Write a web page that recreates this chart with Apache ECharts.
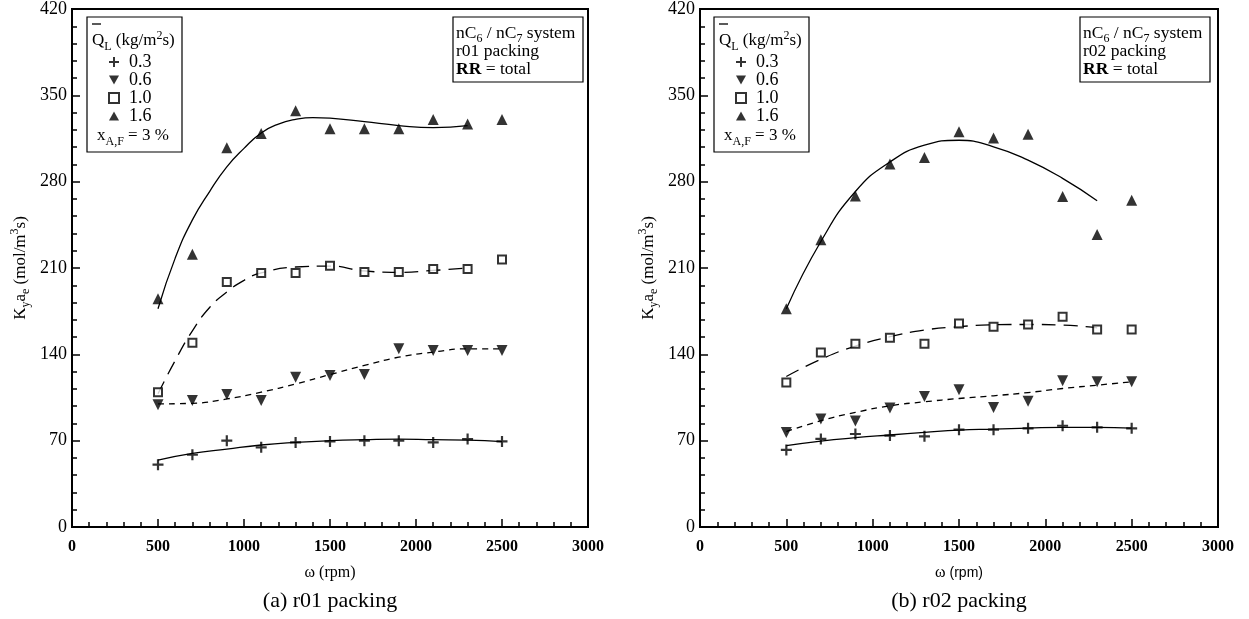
<!DOCTYPE html>
<html>
<head>
<meta charset="utf-8">
<script src="https://cdn.jsdelivr.net/npm/echarts@6/dist/echarts.min.js"></script>
<style>html,body{margin:0;padding:0;background:#fff}#c{width:1249px;height:619px}</style>
</head>
<body>
<div id="c"></div>
<script>
// ---- data ----
const rpm = [500, 700, 900, 1100, 1300, 1500, 1700, 1900, 2100, 2300, 2500];
const xTicks = [0, 500, 1000, 1500, 2000, 2500, 3000];
const yTicks = [0, 70, 140, 210, 280, 350, 420];
const legendNames = ['0.3', '0.6', '1.0', '1.6'];

// (a) r01 packing – measured points
const a03 = [50.5, 58.6, 70, 64.6, 68.6, 69.4, 70, 70, 68.6, 71.3, 69.4];
const a06 = [99.2, 102.5, 107.4, 102.5, 121.4, 122.8, 123.6, 144.5, 143.1, 143.1, 143.1];
const a10 = [109.3, 149.3, 198.6, 206, 206, 211.9, 206.8, 206.8, 209.2, 209.2, 216.8];
const a16 = [185.1, 221.1, 307.5, 319.1, 337.5, 322.9, 322.9, 322.9, 330.5, 326.7, 330.5];
// (a) fitted curves
const fitA03x = [500, 700, 900, 1100, 1300, 1500, 1700, 1900, 2100, 2300, 2500];
const fitA03y = [54.3, 59.7, 63.2, 66.5, 68.6, 70, 70.8, 71.3, 70.8, 70.5, 69.2];
const fitA06x = [500, 700, 900, 1100, 1300, 1500, 1700, 1900, 2100, 2300, 2500];
const fitA06y = [99.8, 100.3, 103.8, 109.3, 116, 123.6, 131, 137.7, 141.8, 144.5, 144.5];
const fitA10x = [500, 600, 700, 800, 900, 1000, 1100, 1300, 1500, 1700, 1900, 2100, 2300];
const fitA10y = [108, 135, 159, 178, 190.5, 200, 206, 210.8, 211.6, 207.6, 206.5, 208, 210];
const fitA16x = [500, 600, 700, 800, 900, 1000, 1100, 1200, 1300, 1400, 1500, 1700, 1900, 2100, 2300];
const fitA16y = [177, 218, 249, 272, 292, 307, 319.5, 326.7, 330.5, 332, 331.5, 328.6, 325.5, 323.8, 325.5];

// (b) r02 packing – measured points
const b03 = [62.5, 71.4, 75.4, 74.1, 73.5, 78.9, 78.9, 80, 82.1, 80.8, 80];
const b06 = [76.7, 87.5, 85.9, 96.4, 105.8, 111.2, 96.9, 102, 118.5, 117.7, 117.7];
const b10 = [117.1, 141.4, 148.6, 153.5, 148.6, 165, 162.4, 164.2, 170.4, 160.2, 160.2];
const b16 = [176.9, 232.9, 268.4, 294.3, 299.6, 320.4, 315.5, 318.5, 267.9, 237.2, 264.9];
// (b) fitted curves
const fitB03x = [500, 700, 900, 1100, 1300, 1500, 1700, 1900, 2100, 2300, 2500];
const fitB03y = [66, 69.7, 72.4, 74.6, 76.7, 78.6, 79.4, 80.2, 80.8, 80.8, 80.2];
const fitB06x = [500, 700, 900, 1100, 1300, 1500, 1700, 1900, 2100, 2300, 2500];
const fitB06y = [77.3, 86.2, 92.9, 98.3, 101.5, 104.2, 106.4, 109, 112.3, 115, 117.7];
const fitB10x = [500, 700, 900, 1100, 1300, 1500, 1700, 1900, 2100, 2300];
const fitB10y = [122, 136, 146.7, 154.3, 159.7, 162.4, 164, 164.2, 163.7, 161.5];
const fitB16x = [500, 700, 900, 1100, 1300, 1500, 1700, 1900, 2100, 2300];
const fitB16y = [177, 231.5, 272, 296, 309.6, 313.6, 308.3, 297.5, 282.7, 264.6];

// ---- build ----
const SERIF = '"Liberation Serif", "DejaVu Serif", serif';
const SANS = '"Liberation Sans", Arial, sans-serif';
const zip = (xs, ys) => xs.map((x, i) => [x, ys[i]]);

function mkRich(fs) {
  const sub = Math.round(fs * 0.68);
  return {
    m: {fontFamily: SERIF, fontSize: fs, lineHeight: fs + 6, color: '#000'},
    s: {fontFamily: SERIF, fontSize: sub, lineHeight: sub + 1, verticalAlign: 'bottom', color: '#000'},
    p: {fontFamily: SERIF, fontSize: sub, lineHeight: sub + 1, verticalAlign: 'top', color: '#000'},
    b: {fontFamily: SERIF, fontSize: fs, lineHeight: fs + 6, fontWeight: 'bold', color: '#000'},
    r: {fontFamily: SANS, fontSize: fs - 2, lineHeight: fs + 6, color: '#000'}
  };
}
const richLegend = mkRich(17);
const richInfo = mkRich(17.5);
const richAxis = mkRich(17);

const plusPath = 'path://M4,0H6V4H10V6H6V10H4V6H0V4H4Z';
const downTri = 'path://M0,0H10L5,9Z';
const upTri = 'path://M5,0L10,9H0Z';

const grids = [
  {left: 72, top: 9, width: 516, height: 518, show: true, borderColor: '#000', borderWidth: 2},
  {left: 700, top: 9, width: 518, height: 518, show: true, borderColor: '#000', borderWidth: 2}
];

function xAx(i) {
  return {
    gridIndex: i, type: 'value', min: xTicks[0], max: xTicks[xTicks.length - 1], interval: 500,
    axisLine: {lineStyle: {color: '#000', width: 2}},
    axisTick: {inside: true, length: 8, lineStyle: {color: '#000', width: 1.5}},
    minorTick: {show: true, splitNumber: 5, length: 5, lineStyle: {color: '#000', width: 1.5}},
    splitLine: {show: false},
    axisLabel: {color: '#000', fontFamily: SERIF, fontWeight: 'bold', fontSize: 16, margin: 12,
      formatter: v => String(v)}
  };
}
function yAx(i) {
  return {
    gridIndex: i, type: 'value', min: yTicks[0], max: yTicks[yTicks.length - 1], interval: 70,
    axisLine: {lineStyle: {color: '#000', width: 2}},
    axisTick: {inside: true, length: 8, lineStyle: {color: '#000', width: 1.5}},
    minorTick: {show: true, splitNumber: 5, length: 5, lineStyle: {color: '#000', width: 1.5}},
    splitLine: {show: false},
    axisLabel: {color: '#000', fontFamily: SERIF, fontSize: 18, margin: 5, formatter: v => String(v)},
    name: '{m|K}{s|y}{m|a}{s|e}{m| (mol/m}{p|3}{m|s)}',
    nameLocation: 'middle', nameRotate: 90, nameGap: 40,
    nameTextStyle: {rich: richAxis}
  };
}

function scatter(i, name, ys, sym) {
  const s = {
    name: name, type: 'scatter', xAxisIndex: i, yAxisIndex: i, data: zip(rpm, ys),
    symbol: sym, symbolSize: 11, z: 5,
    itemStyle: {color: '#000'}
  };
  if (sym === 'rect') {
    s.symbolSize = 8;
    s.itemStyle = {color: '#fff', borderColor: '#000', borderWidth: 2};
  }
  return s;
}
function fit(i, xs, ys, dash) {
  return {
    type: 'line', xAxisIndex: i, yAxisIndex: i, data: zip(xs, ys), smooth: 0.5,
    symbol: 'none', silent: true, z: 3,
    lineStyle: {color: '#000', width: 1.3, type: dash}
  };
}

const series = [
  fit(0, fitA03x, fitA03y, 'solid'),
  fit(0, fitA06x, fitA06y, [6, 5]),
  fit(0, fitA10x, fitA10y, [14, 8]),
  fit(0, fitA16x, fitA16y, 'solid'),
  scatter(0, legendNames[0], a03, plusPath),
  scatter(0, legendNames[1], a06, downTri),
  scatter(0, legendNames[2], a10, 'rect'),
  scatter(0, legendNames[3], a16, upTri),
  fit(1, fitB03x, fitB03y, 'solid'),
  fit(1, fitB06x, fitB06y, [6, 5]),
  fit(1, fitB10x, fitB10y, [14, 8]),
  fit(1, fitB16x, fitB16y, 'solid'),
  scatter(1, legendNames[0], b03, plusPath),
  scatter(1, legendNames[1], b06, downTri),
  scatter(1, legendNames[2], b10, 'rect'),
  scatter(1, legendNames[3], b16, upTri)
];

function legendCfg(left) {
  return {
    data: legendNames, orient: 'vertical', left: left, top: 53, itemGap: 0,
    itemWidth: 10, itemHeight: 10, selectedMode: false, padding: 0,
    textStyle: {fontFamily: SERIF, fontSize: 18, color: '#000', lineHeight: 17.6, padding: [0, 0, 0, 5]}
  };
}

function panelGraphics(dx, pack, caption, cx) {
  const g = [];
  // legend box
  g.push({type: 'rect', shape: {x: 87 + dx, y: 17, width: 95, height: 135}, style: {fill: 'none', stroke: '#000', lineWidth: 1.2}});
  g.push({type: 'line', shape: {x1: 92 + dx, y1: 24, x2: 101 + dx, y2: 24}, style: {stroke: '#000', lineWidth: 1.3}});
  g.push({type: 'text', x: 92 + dx, y: 41, style: {text: '{m|Q}{s|L}{m| (kg/m}{p|2}{m|s)}', rich: richLegend, textVerticalAlign: 'middle'}});
  g.push({type: 'text', x: 97 + dx, y: 136, style: {text: '{m|x}{s|A,F}{m| = 3 %}', rich: richLegend, textVerticalAlign: 'middle'}});
  // info box
  g.push({type: 'rect', shape: {x: 453 + dx, y: 17, width: 130, height: 65}, style: {fill: 'none', stroke: '#000', lineWidth: 1.2}});
  g.push({type: 'text', x: 456 + dx, y: 33, style: {text: '{m|nC}{s|6}{m| / nC}{s|7}{m| system}', rich: richInfo, textVerticalAlign: 'middle'}});
  g.push({type: 'text', x: 456 + dx, y: 51, style: {text: '{m|' + pack + ' packing}', rich: richInfo, textVerticalAlign: 'middle'}});
  g.push({type: 'text', x: 456 + dx, y: 69, style: {text: '{b|RR}{m| = total}', rich: richInfo, textVerticalAlign: 'middle'}});
  // axis title
  const xname = dx === 0 ? '{m|\u03c9 (rpm)}' : '{m|\u03c9 }{r|(rpm)}';
  g.push({type: 'text', x: cx, y: 573, style: {text: xname, rich: mkRich(16), textAlign: 'center', textVerticalAlign: 'middle'}});
  // caption
  g.push({type: 'text', x: cx, y: 601, style: {text: caption, font: '22px ' + SERIF, fill: '#000', textAlign: 'center', textVerticalAlign: 'middle'}});
  return g;
}

const option = {
  backgroundColor: '#fff',
  animation: false,
  grid: grids,
  xAxis: [xAx(0), xAx(1)],
  yAxis: [yAx(0), yAx(1)],
  legend: [legendCfg(108), legendCfg(735)],
  series: series,
  graphic: panelGraphics(0, 'r01', '(a) r01 packing', 330).concat(panelGraphics(627, 'r02', '(b) r02 packing', 959))
};

const chart = echarts.init(document.getElementById('c'), null, {renderer: 'canvas'});
chart.setOption(option);
</script>
</body>
</html>
